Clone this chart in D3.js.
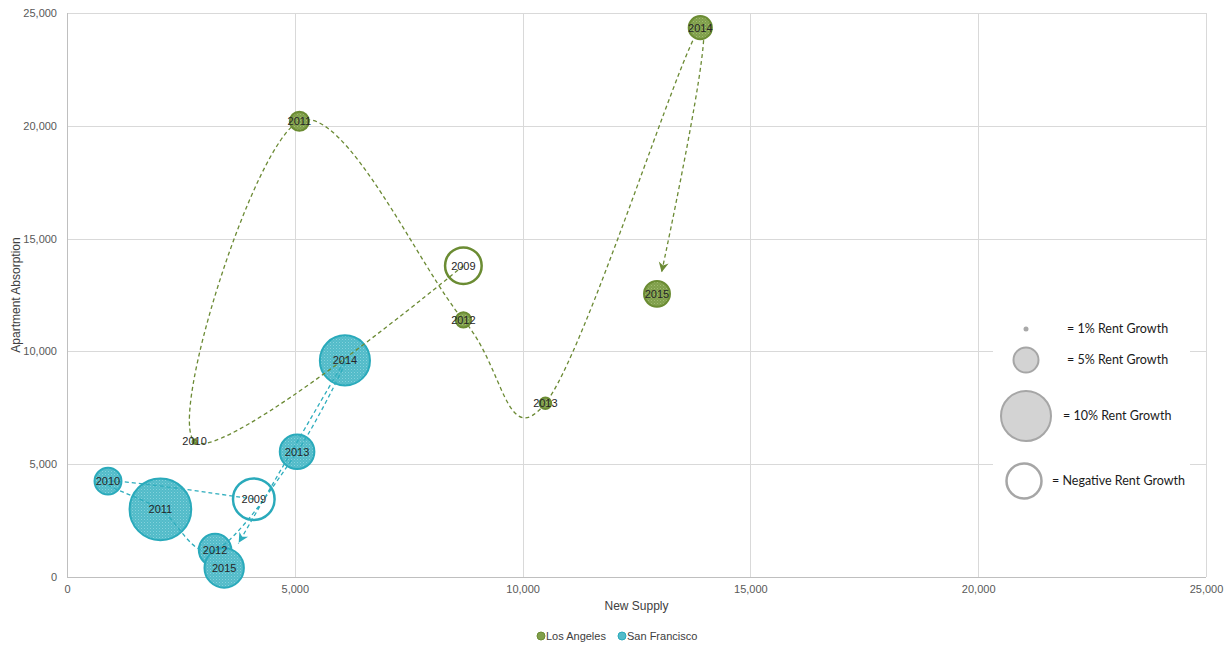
<!DOCTYPE html>
<html>
<head>
<meta charset="utf-8">
<script src="https://cdn.jsdelivr.net/npm/d3@7"></script>
<style>
  body { margin: 0; background: #fff; }
  svg { display: block; }
  text { font-family: "Liberation Sans", Arial, sans-serif; }
</style>
</head>
<body>
<svg id="chart" width="1231" height="645"></svg>
<script>
// Apartment supply vs. absorption by year; bubble size = rent growth (%)
const years = [2009, 2010, 2011, 2012, 2013, 2014, 2015];

const laSupply     = [8700, 2800, 5100, 8700, 10500, 13900, 12950];
const laAbsorption = [13800, 6000, 20200, 11400, 7700, 24350, 12550];
const laRentGrowth = [-4.0, 0.1, 1.2, 0.8, 0.5, 1.7, 2.1];

const sfSupply     = [4100, 900, 2050, 3250, 5050, 6100, 3450];
const sfAbsorption = [3450, 4250, 3000, 1200, 5550, 9600, 400];
const sfRentGrowth = [-5.1, 2.25, 10.9, 3.2, 3.6, 7.3, 4.6];

const xTicks = [0, 5000, 10000, 15000, 20000, 25000];
const yTicks = [0, 5000, 10000, 15000, 20000, 25000];

const seriesNames = ["Los Angeles", "San Francisco"];

const sizeKeyLabels = ["= 1% Rent Growth", "= 5% Rent Growth", "= 10% Rent Growth", "= Negative Rent Growth"];
const sizeKeyValues = [1, 5, 10, -7];

const styles = {
  "Los Angeles":   { stroke: "#6b8c33", base: "#809f4b", light: "#a0bb70", line: "#6b8a34", id: "texLA" },
  "San Francisco": { stroke: "#2aaabb", base: "#52bbc9", light: "#84d2dc", line: "#2eadbd", id: "texSF" }
};

const series = [
  { name: seriesNames[0], pts: years.map((yr, i) => ({ year: yr, sx: laSupply[i], ay: laAbsorption[i], g: laRentGrowth[i] })) },
  { name: seriesNames[1], pts: years.map((yr, i) => ({ year: yr, sx: sfSupply[i], ay: sfAbsorption[i], g: sfRentGrowth[i] })) }
];

const svg = d3.select("#chart");
const plot = { left: 67, right: 1206, top: 13, bottom: 577 };

const x = d3.scaleLinear().domain([0, 25000]).range([plot.left, plot.right]);
const y = d3.scaleLinear().domain([0, 25000]).range([plot.bottom, plot.top]);
const r = d3.scaleSqrt().domain([0, 11]).range([0, 32]);

// textured fills
const defs = svg.append("defs");
Object.values(styles).forEach(s => {
  const p = defs.append("pattern").attr("id", s.id).attr("width", 3).attr("height", 3)
    .attr("patternUnits", "userSpaceOnUse");
  p.append("rect").attr("width", 3).attr("height", 3).attr("fill", s.base);
  p.append("rect").attr("width", 1).attr("height", 1).attr("fill", s.light);
  p.append("rect").attr("x", 1.5).attr("y", 1.5).attr("width", 1).attr("height", 1).attr("fill", s.light).attr("opacity", 0.6);
});

// gridlines
const grid = svg.append("g").attr("stroke", "#d9d9d9").attr("stroke-width", 1);
xTicks.filter(t => t > 0).forEach(t => {
  grid.append("line").attr("x1", Math.round(x(t)) + 0.5).attr("x2", Math.round(x(t)) + 0.5)
    .attr("y1", plot.top).attr("y2", plot.bottom);
});
yTicks.filter(t => t > 0).forEach(t => {
  grid.append("line").attr("y1", Math.round(y(t)) + 0.5).attr("y2", Math.round(y(t)) + 0.5)
    .attr("x1", plot.left).attr("x2", plot.right);
});

// axis lines
svg.append("line").attr("x1", plot.left + 0.5).attr("x2", plot.left + 0.5)
  .attr("y1", plot.top).attr("y2", plot.bottom).attr("stroke", "#bfbfbf");
svg.append("line").attr("x1", plot.left).attr("x2", plot.right)
  .attr("y1", plot.bottom + 0.5).attr("y2", plot.bottom + 0.5).attr("stroke", "#bfbfbf");

// axes
const fmt = d3.format(",");
const gx = svg.append("g").attr("transform", `translate(0,${plot.bottom})`)
  .call(d3.axisBottom(x).tickValues(xTicks).tickSize(0).tickPadding(8).tickFormat(fmt));
const gy = svg.append("g").attr("transform", `translate(${plot.left},0)`)
  .call(d3.axisLeft(y).tickValues(yTicks).tickSize(0).tickPadding(10).tickFormat(fmt));
[gx, gy].forEach(g => {
  g.select(".domain").remove();
  g.selectAll("text").attr("fill", "#595959").style("font-size", "11px")
    .style("font-family", '"Liberation Sans", Arial, sans-serif');
});

// axis titles
svg.append("text").attr("x", (plot.left + plot.right) / 2).attr("y", 610)
  .attr("text-anchor", "middle").attr("fill", "#404040").style("font-size", "12px").text("New Supply");
svg.append("text").attr("transform", `translate(20,${(plot.top + plot.bottom) / 2}) rotate(-90)`)
  .attr("text-anchor", "middle").attr("fill", "#404040").style("font-size", "12px").text("Apartment Absorption");

// rent-growth size key
const keyBox = svg.append("g");
keyBox.append("rect").attr("x", 993).attr("y", 312).attr("width", 197).attr("height", 192).attr("fill", "#fff");
const keyScale = d3.scaleLinear().domain([0, 10]).range([0, 25]);
const keyRows = [
  { cx: 1026, cy: 329, tx: 1067 },
  { cx: 1026, cy: 360, tx: 1067 },
  { cx: 1026, cy: 416, tx: 1063 },
  { cx: 1024, cy: 481, tx: 1052 }
];
sizeKeyValues.forEach((v, i) => {
  const row = keyRows[i];
  const rad = keyScale(Math.abs(v));
  keyBox.append("circle").attr("cx", row.cx).attr("cy", row.cy).attr("r", rad)
    .attr("fill", v < 0 ? "#fff" : (v < 2 ? "#a9a9a9" : "#d3d3d3"))
    .attr("stroke", v < 0 ? "#a6a6a6" : (v < 2 ? "none" : "#a6a6a6"))
    .attr("stroke-width", v < 0 ? 2.5 : 2);
  keyBox.append("text").attr("x", row.tx).attr("y", row.cy + 4)
    .style("font-family", "Lato, 'Open Sans', sans-serif").style("font-size", "12.5px")
    .attr("fill", "#1a1a1a").text(sizeKeyLabels[i]);
});

// Excel-style smoothed connector (uniform Catmull-Rom)
const line = d3.line().x(d => x(d.sx)).y(d => y(d.ay)).curve(d3.curveCatmullRom.alpha(0));

function drawBubbles(s) {
  const st = styles[s.name];
  svg.append("g").selectAll("circle").data(s.pts).join("circle")
    .attr("cx", d => x(d.sx)).attr("cy", d => y(d.ay))
    .attr("r", d => Math.max(r(Math.abs(d.g)) - 1, 1.5))
    .attr("fill", d => d.g < 0 ? "none" : `url(#${st.id})`)
    .attr("stroke", st.stroke)
    .attr("stroke-width", d => d.g < 0 ? 2.5 : 2);
}

function drawPath(s) {
  const st = styles[s.name];
  const path = svg.append("path").attr("d", line(s.pts))
    .attr("fill", "none").attr("stroke", st.line).attr("stroke-width", 1.3);
  const node = path.node();
  const total = node.getTotalLength();
  const last = s.pts[s.pts.length - 1];
  const ex = x(last.sx), ey = y(last.ay);
  const gap = r(Math.abs(last.g)) + 8;
  let L = total;
  while (L > 0) {
    const p = node.getPointAtLength(L);
    if (Math.hypot(p.x - ex, p.y - ey) > gap) break;
    L -= 0.5;
  }
  // dashes up to the arrow tip, nothing after
  const dashes = [];
  let acc = 0;
  while (acc + 7 < L) { dashes.push(4, 3); acc += 7; }
  dashes.push(Math.min(4, L - acc), 100000);
  path.attr("stroke-dasharray", dashes.join(" "));
  const tip = node.getPointAtLength(L);
  const back = node.getPointAtLength(L - 3);
  const ang = Math.atan2(tip.y - back.y, tip.x - back.x) * 180 / Math.PI;
  svg.append("path").attr("d", "M0,0 L-10,-5 L-7,0 L-10,5 Z")
    .attr("fill", st.line)
    .attr("transform", `translate(${tip.x},${tip.y}) rotate(${ang})`);
}

const la = series[0], sf = series[1];
drawBubbles(sf);
drawPath(sf);
drawPath(la);
drawBubbles(la);

// year labels
series.forEach(s => {
  svg.append("g").selectAll("text").data(s.pts).join("text")
    .attr("x", d => x(d.sx)).attr("y", d => y(d.ay)).attr("dy", "0.35em")
    .attr("text-anchor", "middle").attr("fill", "#262626").style("font-size", "11px")
    .text(d => d.year);
});

// series legend
const leg = svg.append("g");
const legX = [541, 622];
seriesNames.forEach((n, i) => {
  leg.append("circle").attr("cx", legX[i]).attr("cy", 636).attr("r", 4)
    .attr("fill", styles[n].base).attr("stroke", styles[n].stroke).attr("stroke-width", 1);
  leg.append("text").attr("x", legX[i] + 5).attr("y", 640).attr("fill", "#404040")
    .style("font-size", "11px").text(n);
});
</script>
</body>
</html>
